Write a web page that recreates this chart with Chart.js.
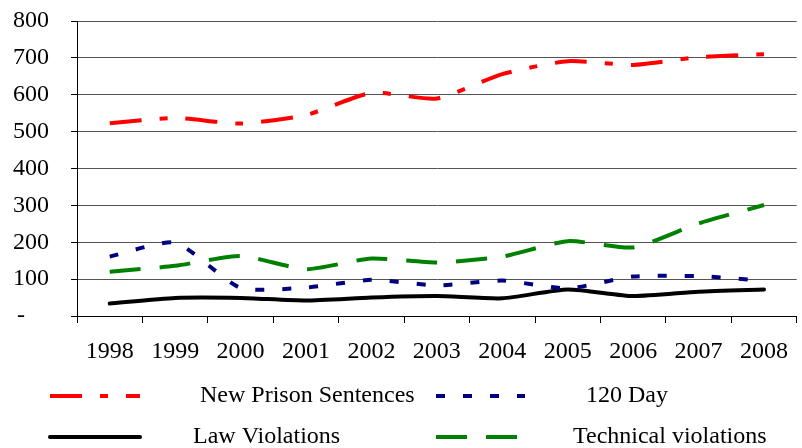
<!DOCTYPE html>
<html>
<head>
<meta charset="utf-8">
<script src="https://cdn.jsdelivr.net/npm/chart.js@4/dist/chart.umd.min.js"></script>
<style>
  html, body { margin: 0; padding: 0; background: #fff; }
  #wrap { width: 802px; height: 448px; position: relative; }
</style>
</head>
<body>
<div id="wrap"><canvas id="chart"></canvas></div>
<script>
// Data
const years = ['1998', '1999', '2000', '2001', '2002', '2003', '2004', '2005', '2006', '2007', '2008'];
const newPrisonSentences = [523, 537, 522, 545, 605, 590, 656, 691, 681, 702, 710];
const day120 = [161, 199, 76, 77, 98, 83, 96, 75, 107, 108, 96];
const lawViolations = [34, 49, 49, 42, 50, 54, 48, 72, 54, 66, 72];
const technicalViolations = [120, 136, 163, 127, 156, 145, 161, 203, 186, 251, 301];
const yTicks = [0, 100, 200, 300, 400, 500, 600, 700, 800];

const FONT = "'Liberation Serif', 'Times New Roman', serif";

// legend boxes (line sample start, width, row y, text x), in dataset order
const legendSlots = [
    { x: 50, w: 90, y: 396, tx: 200 },
    { x: 436, w: 89, y: 396, tx: 586 },
    { x: 50, w: 90, y: 437, tx: 193 },
    { x: 436, w: 81, y: 437, tx: 573 }
];

const legendPlugin = {
    id: 'bottomLegend',
    afterDraw(chart) {
        const ctx = chart.ctx;
        chart.data.datasets.forEach((ds, i) => {
            const s = legendSlots[i];
            ctx.save();
            ctx.strokeStyle = ds.borderColor;
            ctx.lineWidth = ds.borderWidth;
            ctx.lineCap = ds.borderCapStyle || 'butt';
            ctx.setLineDash(ds.borderDash || []);
            ctx.beginPath();
            ctx.moveTo(s.x, s.y);
            ctx.lineTo(s.x + s.w, s.y);
            ctx.stroke();
            ctx.setLineDash([]);
            ctx.fillStyle = '#000';
            ctx.font = '24px ' + FONT;
            ctx.textBaseline = 'middle';
            ctx.textAlign = 'left';
            ctx.fillText(ds.label, s.tx, s.y);
            ctx.restore();
        });
    }
};

new Chart(document.getElementById('chart'), {
    type: 'line',
    data: {
        labels: years,
        datasets: [
            {
                label: 'New Prison Sentences',
                data: newPrisonSentences,
                borderColor: '#ff0000',
                borderWidth: 4,
                borderDash: [32, 18, 8, 18],
                borderCapStyle: 'butt'
            },
            {
                label: '120 Day',
                data: day120,
                borderColor: '#000080',
                borderWidth: 4,
                borderDash: [9, 18],
                borderCapStyle: 'butt'
            },
            {
                label: 'Law Violations',
                data: lawViolations,
                borderColor: '#000000',
                borderWidth: 4,
                borderCapStyle: 'round'
            },
            {
                label: 'Technical violations',
                data: technicalViolations,
                borderColor: '#008000',
                borderWidth: 4,
                borderDash: [31, 19],
                borderCapStyle: 'butt'
            }
        ]
    },
    options: {
        responsive: true,
        maintainAspectRatio: false,
        animation: false,
        layout: { padding: { top: 21, right: 0, bottom: 88, left: 0 } },
        elements: {
            point: { radius: 0 },
            line: { tension: 0.2, fill: false }
        },
        plugins: {
            legend: { display: false },
            tooltip: { enabled: false }
        },
        scales: {
            x: {
                offset: true,
                grid: {
                    offset: true,
                    drawOnChartArea: false,
                    drawTicks: true,
                    tickLength: 7,
                    tickColor: '#000'
                },
                border: { color: '#000', width: 1 },
                ticks: {
                    color: '#000',
                    font: { family: FONT, size: 24 },
                    padding: 14,
                    maxRotation: 0,
                    autoSkip: false
                },
                afterFit(scale) { scale.height = 44; }
            },
            y: {
                min: 0,
                max: 800,
                afterBuildTicks(scale) {
                    scale.ticks = yTicks.map(v => ({ value: v }));
                },
                grid: {
                    color: '#555',
                    lineWidth: 1,
                    drawTicks: true,
                    tickLength: 6,
                    tickColor: '#000'
                },
                border: { color: '#000', width: 1 },
                ticks: {
                    color: '#000',
                    font: { family: FONT, size: 24 },
                    padding: 22,
                    callback: v => (v === 0 ? '-    ' : String(v))
                },
                afterFit(scale) {
                    scale.width = 77;
                    // the top label may overhang the plot, as in the original
                    scale.paddingTop = 0;
                    scale.paddingBottom = 0;
                }
            }
        }
    },
    plugins: [legendPlugin]
});
</script>
</body>
</html>
